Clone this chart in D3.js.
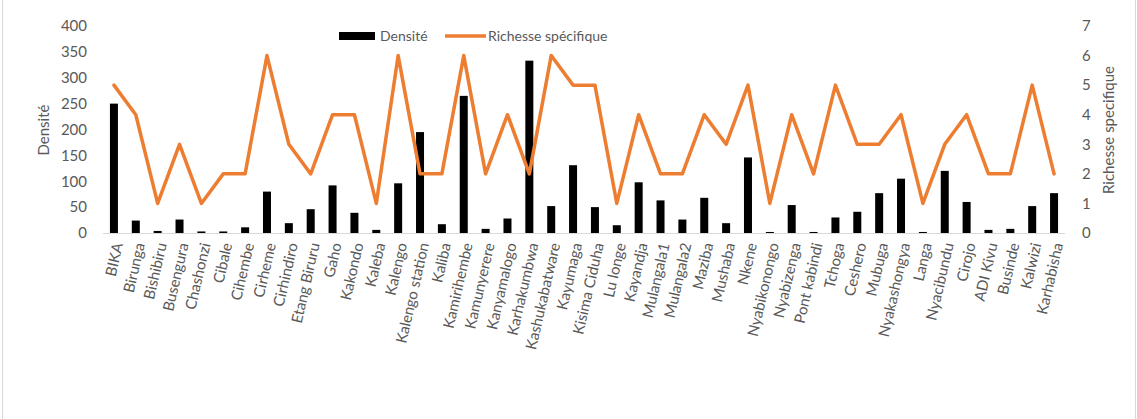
<!DOCTYPE html>
<html>
<head>
<meta charset="utf-8">
<script src="https://cdn.jsdelivr.net/npm/d3@7"></script>
<style>
  html, body { margin: 0; padding: 0; background: #fff; }
  svg { display: block; font-family: Lato, "Open Sans", sans-serif; }
</style>
</head>
<body>
<svg id="chart" width="1137" height="419"></svg>
<script>
// Sites sampled
const sites = ["BIKA", "Birunga", "Bishibiru", "Busengura", "Chashonzi", "Cibale", "Cihembe", "Cirheme",
  "Cirhindiro", "Etang Biruru", "Gaho", "Kakondo", "Kaleba", "Kalengo", "Kalengo station", "Kaliba",
  "Kamirihembe", "Kamunyerere", "Kanyamalogo", "Karhakumbwa", "Kashukabatware", "Kayumaga",
  "Kisima Ciduha", "Lu longe", "Kayandja", "Mulangala1", "Mulangala2", "Maziba", "Mushaba", "Nkene",
  "Nyabikonongo", "Nyabizenga", "Pont kabindi", "Tchoga", "Ceshero", "Mubuga", "Nyakashongya", "Langa",
  "Nyacibundu", "Cirojo", "ADI Kivu", "Businde", "Kalwizi", "Karhabisha"];

// Densité per site (left axis)
const densite = [250, 24, 4, 26, 3, 3, 11, 80, 19, 46, 92, 39, 6, 96, 195, 17,
  265, 8, 28, 333, 52, 131, 50, 15, 98, 63, 26, 68, 19, 146,
  2, 54, 2, 30, 41, 77, 105, 2, 120, 60, 6, 8, 52, 77];

// Richesse spécifique per site (right axis)
const richesse = [5, 4, 1, 3, 1, 2, 2, 6, 3, 2, 4, 4, 1, 6, 2, 2,
  6, 2, 4, 2, 6, 5, 5, 1, 4, 2, 2, 4, 3, 5,
  1, 4, 2, 5, 3, 3, 4, 1, 3, 4, 2, 2, 5, 2];

const leftTicks = [0, 50, 100, 150, 200, 250, 300, 350, 400];
const rightTicks = [0, 1, 2, 3, 4, 5, 6, 7];

const svg = d3.select("#chart");
const W = 1137, H = 419;
const plot = { left: 103, right: 1065, top: 26, bottom: 233 };
const textColor = "#595959";
const orange = "#ED7D31";
const font = "Lato, 'Open Sans', sans-serif";

// chart frame
svg.append("rect")
  .attr("x", 2.5).attr("y", -1).attr("width", W - 4).attr("height", H + 2)
  .attr("fill", "#fff").attr("stroke", "#d9d9d9");

const x = d3.scaleBand().domain(sites).range([plot.left, plot.right]).paddingInner(0).paddingOuter(0);
const yL = d3.scaleLinear().domain([0, 400]).range([plot.bottom, plot.top]);
const yR = d3.scaleLinear().domain([0, 7]).range([plot.bottom, plot.top]);

// left axis
const axL = svg.append("g").attr("transform", `translate(${plot.left - 16},0)`)
  .call(d3.axisLeft(yL).tickValues(leftTicks).tickFormat(d3.format("d")).tickSize(0).tickPadding(0));
axL.select(".domain").remove();
axL.selectAll("text").attr("fill", textColor).style("font-size", "15px").style("font-family", font);

// right axis
const axR = svg.append("g").attr("transform", `translate(${plot.right + 17},0)`)
  .call(d3.axisRight(yR).tickValues(rightTicks).tickFormat(d3.format("d")).tickSize(0).tickPadding(0));
axR.select(".domain").remove();
axR.selectAll("text").attr("fill", textColor).style("font-size", "15px").style("font-family", font);

// baseline
svg.append("line")
  .attr("x1", plot.left).attr("x2", plot.right)
  .attr("y1", plot.bottom + 0.5).attr("y2", plot.bottom + 0.5)
  .attr("stroke", "#d9d9d9").attr("stroke-width", 1);

// bars
const barW = 8;
svg.append("g").selectAll("rect").data(sites).join("rect")
  .attr("x", (d) => x(d) + x.bandwidth() / 2 - barW / 2)
  .attr("y", (d, i) => yL(densite[i]))
  .attr("width", barW)
  .attr("height", (d, i) => yL(0) - yL(densite[i]))
  .attr("fill", "#000");

// line
const line = d3.line()
  .x((d, i) => x(sites[i]) + x.bandwidth() / 2)
  .y((d) => yR(d));
svg.append("path").datum(richesse)
  .attr("d", line)
  .attr("fill", "none")
  .attr("stroke", orange)
  .attr("stroke-width", 3.5)
  .attr("stroke-linejoin", "round")
  .attr("stroke-linecap", "round");

// category labels
const axX = svg.append("g").attr("transform", `translate(0,${plot.bottom})`)
  .call(d3.axisBottom(x).tickSize(0).tickPadding(0));
axX.select(".domain").remove();
axX.selectAll("text")
  .attr("fill", textColor)
  .style("font-size", "15px")
  .style("font-family", font)
  .attr("text-anchor", "end")
  .attr("dy", "0.35em")
  .attr("y", 0)
  .attr("transform", "translate(4,10) rotate(-77)");

// axis titles
svg.append("text")
  .attr("transform", `translate(49,130) rotate(-90)`)
  .attr("text-anchor", "middle")
  .attr("fill", textColor).style("font-size", "15px")
  .text("Densité");
svg.append("text")
  .attr("transform", `translate(1114,130) rotate(-90)`)
  .attr("text-anchor", "middle")
  .attr("fill", textColor).style("font-size", "15px")
  .text("Richesse specifique");

// legend
const lg = svg.append("g").attr("transform", "translate(339,36)");
lg.append("rect").attr("x", 0).attr("y", -4).attr("width", 36).attr("height", 8).attr("fill", "#000");
lg.append("text").attr("x", 41).attr("y", 0).attr("dy", "0.35em")
  .attr("fill", textColor).style("font-size", "14px").text("Densité");
lg.append("line").attr("x1", 106).attr("x2", 147).attr("y1", 0).attr("y2", 0)
  .attr("stroke", orange).attr("stroke-width", 3.5);
lg.append("text").attr("x", 149).attr("y", 0).attr("dy", "0.35em")
  .attr("fill", textColor).style("font-size", "14px").text("Richesse spécifique");
</script>
</body>
</html>
